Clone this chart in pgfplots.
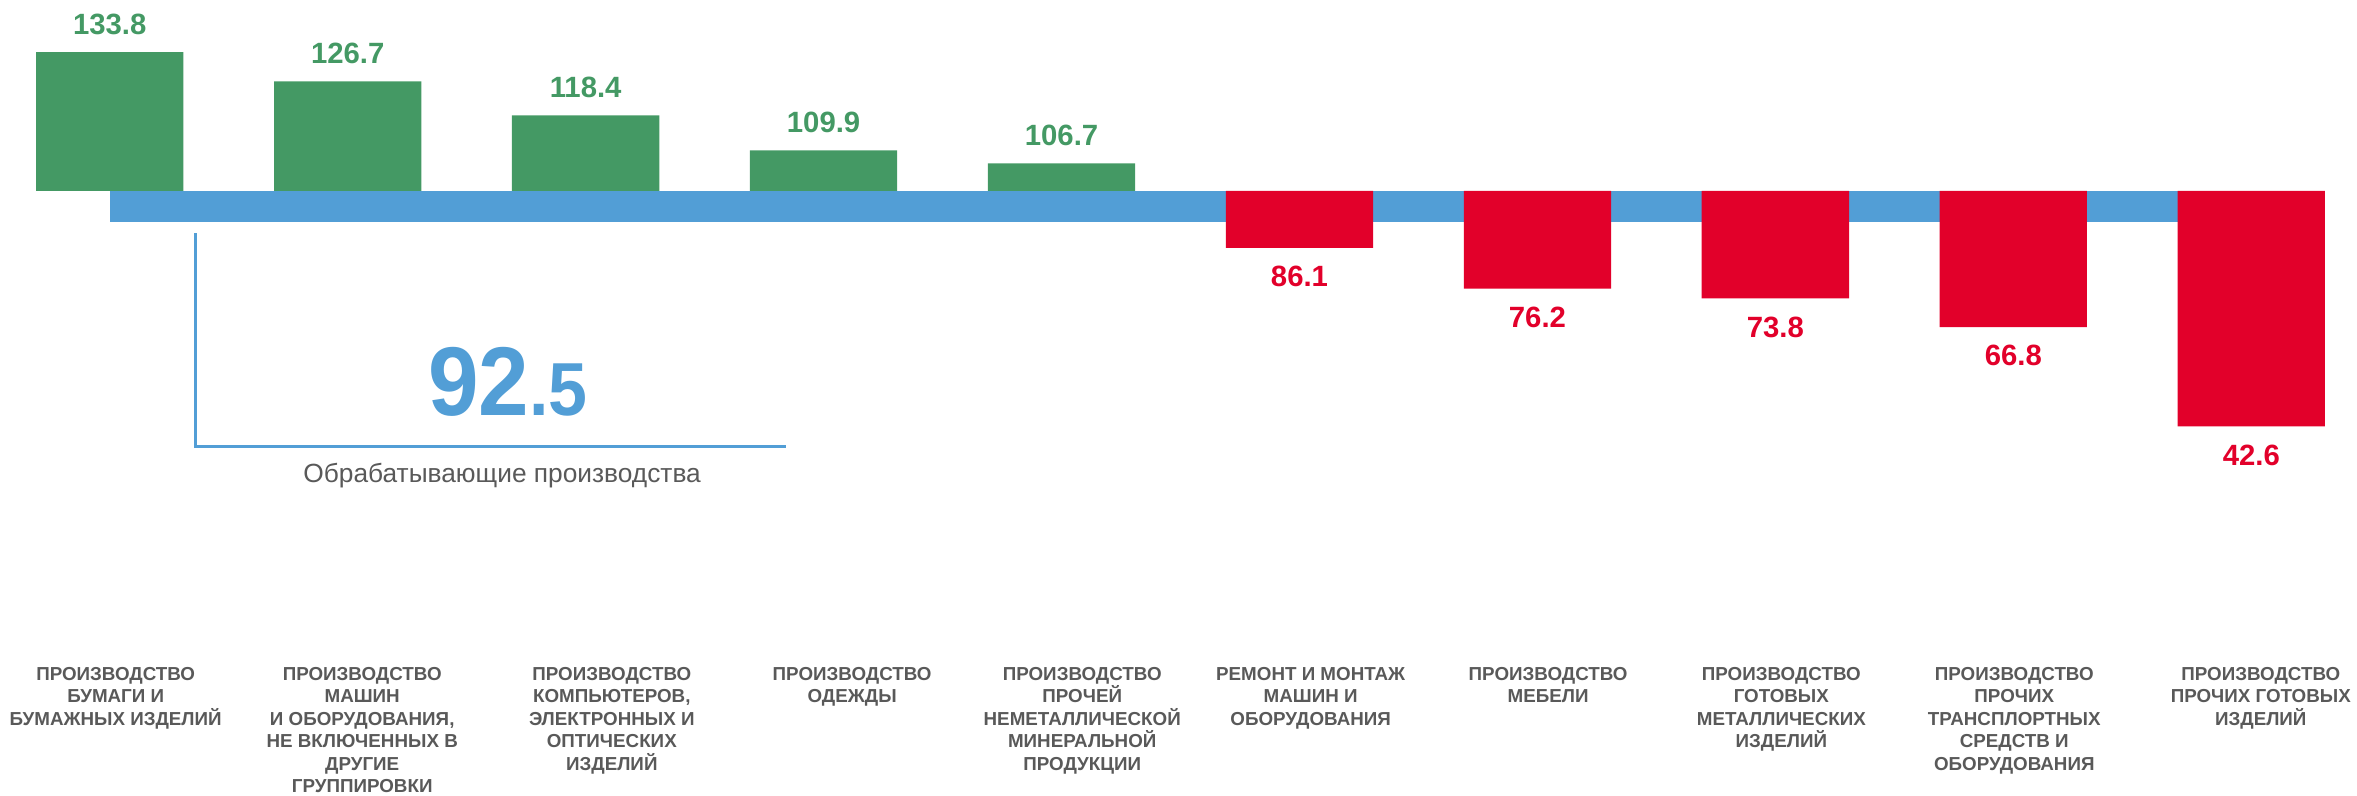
\documentclass[border=0pt]{standalone}
\usepackage{pgfplots}
\pgfplotsset{compat=1.18}
\usepackage{pgfplotstable}
\usepackage{fontspec}
\setmainfont{Liberation Sans}
\newfontfamily\numfont[FakeStretch=0.93]{Liberation Sans}
\definecolor{cgreen}{RGB}{68,153,100}
\definecolor{cred}{RGB}{226,0,42}
\definecolor{cblue}{RGB}{82,158,214}
\definecolor{cgray}{RGB}{89,89,89}

\pgfplotstableread{
x v
0 133.8
1 126.7
2 118.4
3 109.9
4 106.7
}\greendata
\pgfplotstableread{
x v
5 86.1
6 76.2
7 73.8
8 66.8
9 42.6
}\reddata

\begin{document}
\begin{tikzpicture}[x=1pt,y=1pt]
\path[use as bounding box] (0,-92) rectangle (1568,437);
\begin{axis}[
  at={(0,0)}, anchor=south west,
  scale only axis, width=1568pt, height=437pt,
  xmin=-0.4612, xmax=9.444,
  ymin=-113.55, ymax=46.52,
  axis line style={draw=none}, major tick length=0pt, ytick=\empty,
  xtick={0.025,1.061,2.11,3.12,4.087,5.047,6.045,7.025,8.004,9.04},
  xticklabels={
    {ПРОИЗВОДСТВО\\БУМАГИ И\\БУМАЖНЫХ ИЗДЕЛИЙ},
    {ПРОИЗВОДСТВО\\МАШИН\\И ОБОРУДОВАНИЯ,\\НЕ ВКЛЮЧЕННЫХ В\\ДРУГИЕ\\ГРУППИРОВКИ},
    {ПРОИЗВОДСТВО\\КОМПЬЮТЕРОВ,\\ЭЛЕКТРОННЫХ И\\ОПТИЧЕСКИХ\\ИЗДЕЛИЙ},
    {ПРОИЗВОДСТВО\\ОДЕЖДЫ},
    {ПРОИЗВОДСТВО\\ПРОЧЕЙ\\НЕМЕТАЛЛИЧЕСКОЙ\\МИНЕРАЛЬНОЙ\\ПРОДУКЦИИ},
    {РЕМОНТ И МОНТАЖ\\МАШИН И\\ОБОРУДОВАНИЯ},
    {ПРОИЗВОДСТВО\\МЕБЕЛИ},
    {ПРОИЗВОДСТВО\\ГОТОВЫХ\\МЕТАЛЛИЧЕСКИХ\\ИЗДЕЛИЙ},
    {ПРОИЗВОДСТВО\\ПРОЧИХ\\ТРАНСПЛОРТНЫХ\\СРЕДСТВ И\\ОБОРУДОВАНИЯ},
    {ПРОИЗВОДСТВО\\ПРОЧИХ ГОТОВЫХ\\ИЗДЕЛИЙ}},
  xticklabel style={align=center, font=\fontsize{12.5}{15}\selectfont\bfseries, text=cgray, anchor=north, inner sep=0pt, yshift=-6.5pt},
  clip=false,
  /pgf/number format/assume math mode=true,
]
% band: manufacturing total 92.5 (drawn relative to 100)
\addplot[fill=cblue, draw=none] coordinates {(0,0) (9,0) (9,-7.5) (0,-7.5)} -- cycle;

\addplot[ybar, bar width=0.619, bar shift=0pt, fill=cgreen, draw=none,
  point meta=\thisrow{v},
  nodes near coords={\pgfmathprintnumber[fixed,fixed zerofill,precision=1]{\pgfplotspointmeta}},
  every node near coord/.append style={font=\fontsize{19.5}{20}\selectfont\bfseries, text=cgreen, anchor=south, inner sep=0pt, yshift=11.5pt}]
  table[x=x, y expr=\thisrow{v}-100] {\greendata};

\addplot[ybar, bar width=0.619, bar shift=0pt, fill=cred, draw=none,
  point meta=\thisrow{v},
  nodes near coords={\pgfmathprintnumber[fixed,fixed zerofill,precision=1]{\pgfplotspointmeta}},
  every node near coord/.append style={font=\fontsize{19.5}{20}\selectfont\bfseries, text=cred, anchor=north, inner sep=0pt, yshift=-12pt}]
  table[x=x, y expr=\thisrow{v}-100] {\reddata};

\draw[cblue, line width=2pt] (axis cs:0.36,-10.26) -- (axis cs:0.36,-62.3) -- (axis cs:2.843,-62.3);
\node[anchor=base, text=cblue, inner sep=0pt] at (axis cs:1.674,-54.8)
  {\numfont\bfseries\fontsize{65}{65}\selectfont 92\fontsize{50}{50}\selectfont .5};
\node[anchor=base, text=cgray, inner sep=0pt, font=\fontsize{17.5}{18}\selectfont] at (axis cs:1.649,-71.06)
  {Обрабатывающие производства};
\end{axis}
\end{tikzpicture}
\end{document}
